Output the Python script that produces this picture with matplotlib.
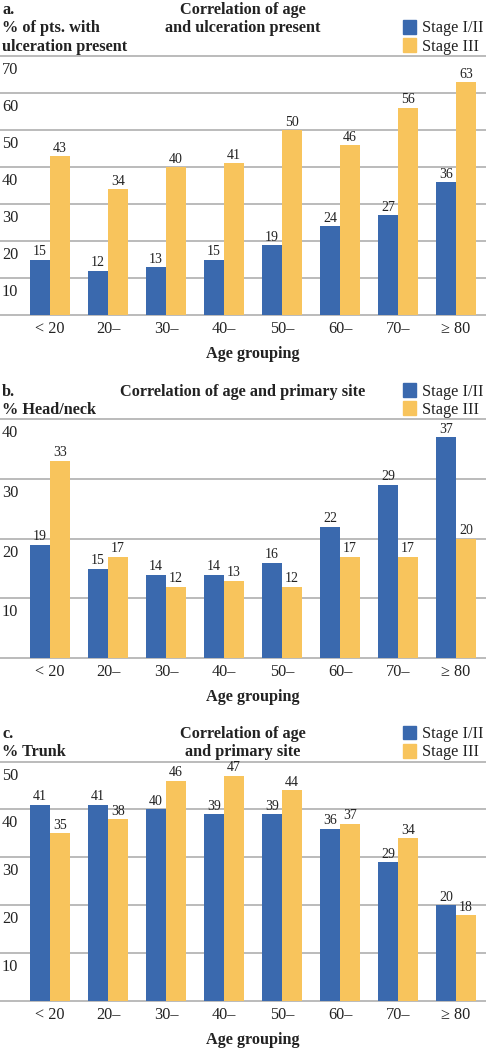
import matplotlib
matplotlib.use("Agg")
import matplotlib.pyplot as plt
import numpy as np

# ---------------- data ----------------
categories = ["< 20", "20\u2013", "30\u2013", "40\u2013", "50\u2013", "60\u2013", "70\u2013", "\u2265 80"]
series_names = ["Stage I/II", "Stage III"]

a_stage12 = [15, 12, 13, 15, 19, 24, 27, 36]
a_stage3 = [43, 34, 40, 41, 50, 46, 56, 63]
a_yticks = [10, 20, 30, 40, 50, 60, 70]

b_stage12 = [19, 15, 14, 14, 16, 22, 29, 37]
b_stage3 = [33, 17, 12, 13, 12, 17, 17, 20]
b_yticks = [10, 20, 30, 40]

c_stage12 = [41, 41, 40, 39, 39, 36, 29, 20]
c_stage3 = [35, 38, 46, 47, 44, 37, 34, 18]
c_yticks = [10, 20, 30, 40, 50]

# ---------------- style ----------------
W, H = 486, 1050
DPI = 100
BLUE = "#3A69AE"
YELLOW = "#F8C45C"
GRID = "#A8A8A8"
FONT = ["Liberation Serif", "DejaVu Serif"]
plt.rcParams["font.family"] = FONT
FS = 11.7
FS_VAL = 10

fig = plt.figure(figsize=(W / DPI, H / DPI), dpi=DPI)


def fy(py):
    return 1 - py / H


def fx(px):
    return px / W


def panel(top_px, bot_px, s12, s3, yticks, header_left, header_title):
    ymax = yticks[-1]
    ax = fig.add_axes([0, fy(bot_px), 1, (bot_px - top_px) / H])
    x = np.arange(len(categories))
    w = 0.34
    ax.set_xlim(-50 / 58, (W - 50) / 58)
    ax.set_ylim(0, ymax)
    for v in [0] + yticks:
        ax.axhline(v, color=GRID, lw=1.1, zorder=0, clip_on=False)
    b1 = ax.bar(x - w / 2, s12, w, color=BLUE, zorder=2, label=series_names[0])
    b2 = ax.bar(x + w / 2, s3, w, color=YELLOW, zorder=2, label=series_names[1])
    ax.bar_label(b1, padding=1, fontsize=FS_VAL, color="#222222")
    ax.bar_label(b2, padding=1, fontsize=FS_VAL, color="#222222")
    for sp in ax.spines.values():
        sp.set_visible(False)
    ax.set_yticks([])
    ax.set_xticks(x, categories)
    ax.tick_params(axis="x", length=0, pad=4, labelsize=FS, colors="#222222")
    ax.patch.set_alpha(0)
    for v in yticks:
        ax.annotate(str(v), xy=(0, v), xycoords=("axes fraction", "data"),
                    xytext=(2, -14), textcoords="offset pixels",
                    ha="left", va="center", fontsize=FS, color="#222222")
    # x axis title
    fig.text(fx(253), fy(bot_px + 43), "Age grouping", ha="center", va="baseline",
             fontsize=FS, fontweight="bold", color="#222222")
    # header lines
    base = top_px - 5
    step = 18.5
    n = len(header_left)
    for i, t in enumerate(header_left):
        yb = base - step * (n - 1 - i)
        fig.text(fx(2), fy(yb), t, ha="left", va="baseline", fontsize=FS,
                 fontweight="bold", color="#222222")
    for i, t in enumerate(header_title):
        yb = base - step * (n - 1 - i)
        fig.text(fx(243), fy(yb), t, ha="center", va="baseline", fontsize=FS,
                 fontweight="bold", color="#222222")
    # legend
    for i, (name, col) in enumerate(zip(series_names, [BLUE, YELLOW])):
        yb = base - step * (1 - i)
        sq = 13.5
        fig.patches.append(plt.Rectangle((fx(402.5), fy(yb + 1)), sq / W, sq / H,
                                         transform=fig.transFigure, color=col))
        fig.text(fx(422), fy(yb), name, ha="left", va="baseline", fontsize=FS,
                 color="#222222")
    return ax


panel(56, 315.3, a_stage12, a_stage3, a_yticks,
      ["a.", "% of pts. with", "ulceration present"],
      ["Correlation of age", "and ulceration present"])
panel(419, 658.3, b_stage12, b_stage3, b_yticks,
      ["b.", "% Head/neck"],
      ["Correlation of age and primary site"])
panel(761.5, 1001.3, c_stage12, c_stage3, c_yticks,
      ["c.", "% Trunk"],
      ["Correlation of age", "and primary site"])

fig.savefig("out.png", dpi=DPI)
